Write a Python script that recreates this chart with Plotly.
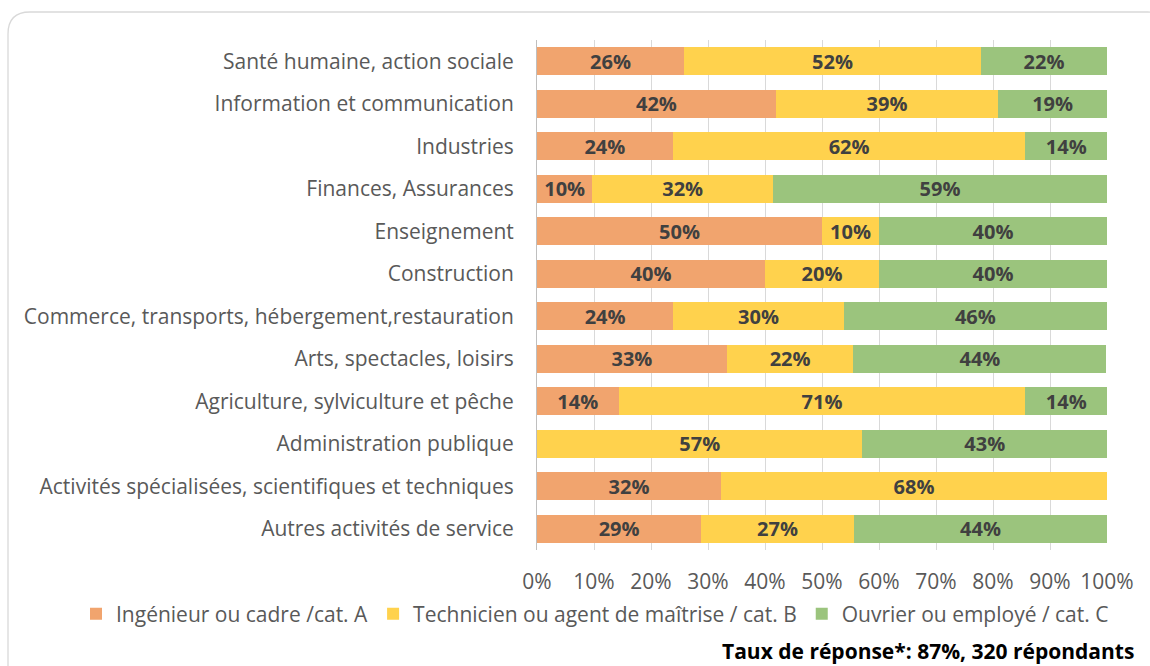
import plotly.graph_objects as go

categories = [
    "Santé humaine, action sociale",
    "Information et communication",
    "Industries",
    "Finances, Assurances",
    "Enseignement",
    "Construction",
    "Commerce, transports, hébergement,restauration",
    "Arts, spectacles, loisirs",
    "Agriculture, sylviculture et pêche",
    "Administration publique",
    "Activités spécialisées, scientifiques et techniques",
    "Autres activités de service",
]

cat_a = [25.8, 41.9, 23.8, 9.7, 50.0, 40.0, 23.9, 33.3, 14.3, 0.0, 32.3, 28.8]
cat_b = [52.1, 39.0, 61.9, 31.7, 10.0, 20.0, 29.9, 22.2, 71.4, 57.1, 67.7, 26.8]
cat_c = [22.1, 19.1, 14.3, 58.6, 40.0, 40.0, 46.2, 44.4, 14.3, 42.9, 0.0, 44.4]

series_names = [
    "Ingénieur ou cadre /cat. A",
    "Technicien ou agent de maîtrise / cat. B",
    "Ouvrier ou employé / cat. C",
]
series_colors = ["#F1A46E", "#FFD24D", "#9BC47D"]

tick_vals = [0, 10, 20, 30, 40, 50, 60, 70, 80, 90, 100]
tick_text = [f"{v}%" for v in tick_vals]

caption = "Taux de réponse*: 87%, 320 répondants"

FONT = "Open Sans"

fig = go.Figure()
for name, vals, col in zip(series_names, [cat_a, cat_b, cat_c], series_colors):
    fig.add_trace(go.Bar(
        y=categories,
        x=vals,
        name=name,
        orientation="h",
        marker=dict(color=col, line=dict(width=0)),
        text=[f"{round(v):d}%" if v > 0 else "" for v in vals],
        textposition="inside",
        insidetextanchor="middle",
        textangle=0,
        textfont=dict(family=FONT, size=20, color="#404040", weight="bold"),
        hoverinfo="skip",
    ))

# pixel -> paper helpers (plot area 537..1107 x, 40..550 y)
def px(v):
    return (v - 537) / 570

def py(v):
    return (550 - v) / 510

# rounded frame
x0, y0, x1, y1, r = 8, 12, 1170, 690, 22
path = (
    f"M {px(x0 + r)} {py(y0)} L {px(x1 - r)} {py(y0)} "
    f"Q {px(x1)} {py(y0)} {px(x1)} {py(y0 + r)} "
    f"L {px(x1)} {py(y1 - r)} Q {px(x1)} {py(y1)} {px(x1 - r)} {py(y1)} "
    f"L {px(x0 + r)} {py(y1)} Q {px(x0)} {py(y1)} {px(x0)} {py(y1 - r)} "
    f"L {px(x0)} {py(y0 + r)} Q {px(x0)} {py(y0)} {px(x0 + r)} {py(y0)} Z"
)
fig.add_shape(type="path", path=path, xref="paper", yref="paper",
              line=dict(color="#D9D9D9", width=1.3), layer="below")

fig.add_annotation(
    text=f"<b>{caption}</b>", x=px(1136), y=py(651), xref="paper", yref="paper",
    xanchor="right", yanchor="middle", showarrow=False,
    font=dict(family=FONT, size=21, color="#000000"),
)

fig.update_layout(
    width=1150, height=666,
    margin=dict(l=537, r=43, t=40, b=116, autoexpand=False),
    barmode="stack",
    bargap=0.34,
    paper_bgcolor="white",
    plot_bgcolor="white",
    font=dict(family=FONT, color="#595959", size=21),
    uniformtext=dict(minsize=20, mode="show"),
    legend=dict(
        orientation="h", x=px(76), xanchor="left", y=py(614), yanchor="middle",
        font=dict(family=FONT, size=21, color="#595959"),
        itemwidth=30, tracegroupgap=0, traceorder="normal",
    ),
    xaxis=dict(
        range=[0, 100], tickvals=tick_vals, ticktext=tick_text,
        showgrid=True, gridcolor="#D9D9D9", gridwidth=1,
        zeroline=False, showline=False,
        ticks="outside", ticklen=13, tickcolor="rgba(0,0,0,0)",
        tickfont=dict(family=FONT, size=21, color="#595959"),
        automargin=False, fixedrange=True,
    ),
    yaxis=dict(
        autorange="reversed",
        showline=True, linecolor="#BFBFBF", linewidth=1,
        ticks="outside", ticklen=18, tickcolor="rgba(0,0,0,0)",
        tickfont=dict(family=FONT, size=21, color="#595959"),
        automargin=False, fixedrange=True,
    ),
    showlegend=True,
)

fig.write_html("out.html", config={"displayModeBar": False},
               post_script="document.body.style.margin='0';")
